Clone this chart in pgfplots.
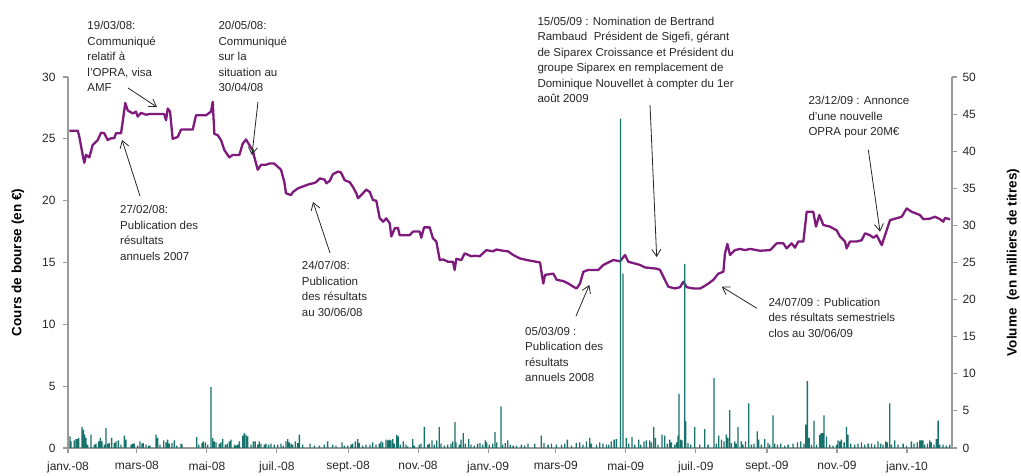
\documentclass[border=0pt]{standalone}
\usepackage{fontspec}
\setmainfont{Liberation Sans}
\usepackage{pgfplots}
\pgfplotsset{compat=1.18}
\usetikzlibrary{arrows.meta}
\definecolor{prix}{HTML}{7E1A7C}
\definecolor{vol}{HTML}{17726C}
\definecolor{axgrey}{HTML}{9A9A9A}
\definecolor{txt}{HTML}{262626}
\tikzset{
 ann/.style={anchor=north west, align=left, inner sep=0pt, font=\fontsize{11.5}{15.5}\selectfont, text=txt},
 arr/.style={-{Straight Barb[length=7pt,width=9pt]}, line width=0.8pt, black!85},
}
\begin{document}
\begin{tikzpicture}
\pgfplotsset{
 common/.style={
   scale only axis, width=884pt, height=371pt,
   at={(0pt,0pt)}, anchor=south west,
   xmin=0, xmax=770.2,
   axis line style={axgrey, line width=1.2pt},
   tick style={axgrey, line width=1.1pt},
   major tick length=5pt,
   tick align=outside,
   ticklabel style={font=\fontsize{12}{14}\selectfont, text=txt},
   /pgf/number format/assume math mode=true,
   clip=false,
 },
}
\begin{axis}[common,
  axis x line*=bottom, axis y line*=left,
  ymin=0, ymax=30, ytick={0,5,...,30},
  xtick={0,60,121,182,244,305,366,425,486,547,609,670,731},
  xticklabels={janv.-08,mars-08,mai-08,juil.-08,sept.-08,nov.-08,janv.-09,mars-09,mai-09,juil.-09,sept.-09,nov.-09,janv.-10},
  xticklabel style={yshift=-5pt},
  yticklabel style={xshift=-4pt},
]
\addplot[prix, line width=2.3pt, line join=round, sharp plot] coordinates {
(1.1,25.65)(8.5,25.65)(9.8,25.2)(12.8,23.7)(14.2,23.06)(15.7,23.7)(18.6,23.5)(21.5,24.5)(25.9,24.9)(28.8,25.5)(31.6,25.45)(34.6,24.9)(37.5,25.05)(40.3,25.05)(41.8,25.45)(46.2,25.45)(47.7,26.4)(49.9,27.9)(52,27.3)(56.4,27.05)(59.2,27.2)(60.7,26.8)(63.6,27.1)(68,26.95)(70.8,27.0)(83.9,27.0)(85.4,26.5)(86.9,27.45)(88.9,27.2)(91.2,25.0)(95.6,25.15)(98.5,25.75)(108.7,25.75)(111.5,26.9)(120.2,26.9)(121.7,27.0)(124.6,27.2)(126.1,28.0)(127.5,25.4)(130.4,25.3)(133.3,24.9)(136.2,24.1)(139.1,23.7)(140.5,23.5)(143.5,23.7)(149.3,23.7)(152.2,24.6)(155.1,24.95)(158,24.5)(160.9,24.1)(162.3,23.55)(165.3,22.5)(168.2,22.9)(172.5,22.9)(175.4,23.0)(179.7,23.0)(182.7,22.75)(185.6,22.5)(188.5,21.5)(189.9,20.6)(194.3,20.45)(196,20.7)(200.4,21.0)(206.2,21.2)(210.6,21.35)(213.5,21.4)(216.3,21.5)(219.3,21.8)(223.7,21.7)(225.1,21.4)(228,21.6)(230.9,22.15)(235.3,22.35)(237.6,22.3)(241.1,21.65)(245.4,21.5)(248.3,21.1)(251.2,20.6)(252.7,20.2)(257,20.6)(259.9,20.9)(262.9,20.7)(265.7,20.05)(268.6,20.0)(271.6,18.57)(274.5,18.3)(277.3,18.57)(280.3,18.17)(281.7,17.1)(284.6,17.76)(287.5,17.8)(289,17.2)(297.7,17.2)(300.6,17.5)(306.4,17.5)(307.8,17.0)(310.2,17.84)(315.1,17.84)(318,16.95)(320.9,16.7)(323.9,15.2)(326.7,15.25)(331.1,15.06)(335.4,15.06)(336.9,14.4)(338.3,15.3)(342.7,15.2)(345.6,15.74)(351.4,15.5)(354.4,15.55)(358.7,15.5)(364.5,16.0)(370.3,15.9)(373.2,16.05)(379,15.95)(383.4,15.9)(388,15.6)(393.8,15.33)(399.7,15.2)(411.3,15.0)(412.7,14.1)(414.1,13.3)(415.6,14.0)(422.8,14.1)(425.8,13.6)(431.5,13.5)(435.9,13.3)(440.3,13.04)(443.2,12.9)(446.1,13.3)(449,14.25)(453.3,14.4)(462,14.4)(466.4,14.8)(475.1,15.2)(481,15.1)(485.3,15.6)(488.2,15.06)(492.6,14.95)(498.4,14.8)(502.7,14.6)(512.9,14.5)(515.8,14.4)(518.7,13.85)(523,13.04)(528.9,12.9)(533.2,13.0)(536.1,13.44)(539.1,13.0)(544.8,12.9)(550.7,12.9)(553.6,13.04)(558,13.3)(562.3,13.6)(566.6,14.1)(571,14.25)(572.4,15.74)(574.5,16.5)(576.8,15.6)(581.1,16.0)(585.5,16.1)(589.9,16.0)(594.2,16.1)(602.9,15.95)(611.7,16.0)(617.5,16.55)(623.2,16.55)(626.2,16.14)(630.5,16.55)(633.4,16.2)(636.3,16.7)(640.7,16.7)(643.6,19.1)(649.3,19.1)(651.7,17.9)(654.6,18.84)(658.1,18.03)(663.9,17.9)(669.7,17.6)(672.6,17.1)(677,16.7)(678.4,16.14)(681.3,16.7)(687.2,16.7)(691.5,16.8)(694.4,17.36)(698.8,17.2)(701.7,17.0)(704.6,17.2)(709,16.4)(710.4,16.8)(716.2,18.43)(719.1,18.5)(726.4,18.7)(730.7,19.37)(735.1,19.1)(742.3,18.84)(745.2,18.5)(751.1,18.55)(755.4,18.7)(759.8,18.5)(762.6,18.3)(764.1,18.6)(768.5,18.5)
};
% axis labels
\node[rotate=90, font=\bfseries\fontsize{13.5}{16}\selectfont] at (axis cs:-43.6,15) {Cours de bourse (en €)};
\node[rotate=90, font=\bfseries\fontsize{13.5}{16}\selectfont] at (axis cs:823.4,15) {Volume\ \ (en milliers de titres)};
% annotations
\node[ann] at (axis cs:16.8,34.53) {19/03/08:\\Communiqué\\relatif à\\l'OPRA, visa\\AMF};
\node[ann] at (axis cs:131.0,34.53) {20/05/08:\\Communiqué\\sur la\\situation au\\30/04/08};
\node[ann] at (axis cs:45.3,19.63) {27/02/08:\\Publication des\\résultats\\annuels 2007};
\node[ann] at (axis cs:203.6,15.12) {24/07/08:\\Publication\\des résultats\\au 30/06/08};
\node[ann] at (axis cs:398.2,9.81) {05/03/09 :\\Publication des\\résultats\\annuels 2008};
\node[ann] at (axis cs:408.9,34.88) {15/05/09 : Nomination de Bertrand\\Rambaud\ \ Président de Sigefi, gérant\\de Siparex Croissance et Président du\\groupe Siparex en remplacement de\\Dominique Nouvellet à compter du 1er\\août 2009};
\node[ann] at (axis cs:645.0,28.46) {23/12/09 : Annonce\\d'une nouvelle\\OPRA pour 20M€};
\node[ann] at (axis cs:610.2,12.15) {24/07/09 : Publication\\des résultats semestriels\\clos au 30/06/09};
\draw[arr] (axis cs:52.3,29.11) -- (axis cs:77.5,27.57);
\draw[arr] (axis cs:165.5,27.98) -- (axis cs:160.3,23.69);
\draw[arr] (axis cs:62.7,20.38) -- (axis cs:47.1,24.91);
\draw[arr] (axis cs:228.3,15.77) -- (axis cs:213.5,19.89);
\draw[arr] (axis cs:442.6,10.67) -- (axis cs:454.2,13.18);
\draw[arr] (axis cs:507.1,27.74) -- (axis cs:512.9,15.44);
\draw[arr] (axis cs:697.3,24.10) -- (axis cs:707.5,17.49);
\draw[arr] (axis cs:600.1,11.30) -- (axis cs:569.6,13.04);
\end{axis}
\begin{axis}[common,
  axis x line=none, axis y line*=right,
  ymin=0, ymax=50, ytick={0,5,...,50},
  yticklabel style={xshift=2pt},
]
\addplot[ybar, bar width=1.3pt, fill=vol, draw=none] coordinates {
(1.7,1.57)(2.6,0.9)(5.5,1.03)(7.0,1.21)(8.4,1.21)(9.3,1.35)(12.2,2.83)(13.4,2.47)(14.5,1.8)(15.7,1.35)(17.1,0.45)(20.0,1.8)(23.0,0.45)(24.4,0.58)(26.7,0.9)(28.2,1.35)(29.6,0.9)(31.7,0.45)(33.1,2.7)(34.6,0.58)(36.0,0.67)(38.0,1.35)(40.4,0.67)(41.8,0.9)(43.9,1.03)(46.2,0.45)(49.1,1.66)(50.5,1.12)(54.9,0.45)(56.3,0.58)(57.8,0.58)(60.7,0.31)(62.7,0.9)(64.5,0.58)(65.6,0.67)(68.0,0.45)(70.3,0.31)(71.4,0.31)(76.7,1.8)(78.1,1.35)(80.2,0.45)(83.4,1.03)(85.4,0.76)(86.8,1.12)(88.3,0.58)(90.6,0.67)(92.6,1.03)(94.7,0.31)(98.5,0.58)(99.3,0.49)(112.1,1.48)(113.9,0.45)(116.8,0.67)(117.9,0.9)(119.7,0.76)(121.7,0.45)(124.6,8.22)(126.1,1.35)(127.5,0.9)(129.0,0.76)(131.9,0.58)(133.3,0.76)(134.8,1.21)(137.1,0.45)(138.8,0.58)(140.6,0.9)(142.0,1.12)(145.0,0.45)(146.4,0.31)(147.8,0.45)(149.3,0.9)(152.2,1.66)(153.6,2.0)(155.1,1.8)(156.5,1.57)(159.4,0.45)(161.5,0.9)(163.2,0.9)(165.3,0.45)(166.7,0.9)(168.2,0.58)(171.1,0.45)(172.5,0.58)(174.8,0.45)(176.9,0.58)(179.8,0.45)(182.7,0.45)(185.6,0.58)(187.6,0.31)(190.0,0.9)(191.4,1.21)(192.8,0.76)(194.3,0.58)(195.7,0.45)(198.1,0.9)(200.1,0.67)(201.6,1.8)(204.5,0.45)(210.9,0.58)(214.6,0.31)(219.0,0.31)(223.3,0.45)(226.2,0.9)(230.6,0.45)(233.5,0.31)(238.7,0.76)(240.8,0.31)(243.7,0.31)(246.6,0.45)(248.0,0.58)(250.4,0.9)(252.4,1.21)(253.8,0.67)(256.7,0.31)(259.6,0.45)(263.1,0.45)(265.5,0.76)(268.4,0.45)(271.3,0.58)(272.7,0.9)(274.2,0.76)(277.1,1.12)(278.5,1.03)(280.0,1.12)(281.4,1.03)(282.9,1.21)(284.3,0.58)(286.4,1.8)(287.8,1.57)(289.6,0.45)(292.2,0.9)(294.5,0.45)(296.0,0.22)(300.3,1.21)(301.8,0.31)(306.1,0.45)(307.6,0.58)(310.5,2.83)(313.4,0.45)(314.8,0.58)(317.1,1.03)(319.2,0.45)(321.2,1.03)(323.5,2.83)(325.0,0.58)(327.9,0.31)(330.8,0.45)(333.7,0.58)(335.2,0.9)(337.2,3.5)(338.1,0.76)(341.0,0.45)(342.4,1.12)(344.4,2.0)(346.2,0.58)(349.1,1.21)(351.1,0.45)(354.0,0.31)(356.9,0.58)(359.0,0.67)(361.3,0.45)(363.6,1.03)(364.8,0.76)(367.1,0.45)(370.0,0.58)(372.0,2.15)(373.5,0.76)(377.3,5.6)(378.7,0.45)(381.0,0.67)(383.1,1.03)
(385.4,0.45)(387.8,0.31)(390.7,0.31)(395.0,0.45)(397.9,0.31)(400.8,0.58)(406.6,0.58)(412.4,1.66)(414.8,0.67)(418.3,0.45)(421.2,0.58)(425.5,0.45)(429.9,0.45)(432.8,0.58)(435.1,1.12)(438.6,0.31)(442.9,0.67)(445.8,0.76)(448.7,0.45)(451.7,0.9)(454.6,1.35)(456.0,0.58)(460.4,0.45)(463.3,0.76)(466.2,0.58)(469.1,0.45)(471.1,0.45)(473.4,0.9)(475.8,1.12)(477.8,1.21)(481.3,44.4)(483.6,23.5)(486.5,1.35)(488.5,0.58)(491.4,1.48)(493.8,0.45)(497.2,1.12)(499.0,0.45)(501.9,0.9)(503.9,1.03)(506.8,1.03)(508.3,0.76)(510.3,2.83)(511.8,1.35)(514.1,0.45)(517.6,1.8)(519.9,1.66)(522.2,0.58)(524.3,1.12)(525.7,0.76)(528.6,0.45)(530.1,0.76)(531.5,1.66)(532.4,7.3)(533.8,1.12)(535.0,1.03)(537.3,24.8)(538.2,3.6)(540.2,0.67)(542.6,0.45)(546.0,2.83)(550.4,0.45)(554.8,2.56)(557.7,0.45)(562.9,9.4)(564.9,0.58)(567.0,1.66)(569.3,1.12)(571.6,0.9)(573.6,1.8)(575.1,1.35)(576.5,5.1)(578.0,0.67)(580.9,0.9)(582.3,0.58)(583.8,2.83)(586.7,0.9)(588.1,0.45)(590.2,0.9)(593.1,6.0)(595.4,0.45)(597.7,0.58)(600.6,2.25)(601.8,1.12)(604.1,0.45)(607.0,1.21)(609.9,0.67)(611.4,0.45)(614.3,4.4)(615.7,0.58)(618.1,0.45)(621.0,0.58)(624.5,0.31)(627.4,0.45)(631.7,0.58)(635.5,0.76)(638.4,0.9)(641.3,0.58)(642.7,3.15)(644.2,9.0)(645.7,1.35)(647.7,0.45)(650.0,3.7)(652.1,0.45)(655.0,1.8)(656.4,2.0)(657.9,2.0)(658.7,4.4)(660.8,1.57)(663.7,0.45)(666.6,0.31)(669.5,0.45)(670.9,1.03)(672.4,0.9)(673.8,1.12)(676.2,0.76)(678.2,2.83)(679.6,1.8)(682.0,0.58)(685.4,0.45)(688.3,0.58)(691.3,0.76)(694.2,0.45)(697.1,0.58)(700.0,0.58)(702.9,0.45)(705.8,0.9)(708.1,0.58)(710.1,0.45)(712.5,0.9)(713.9,0.76)(716.0,6.0)(717.4,0.45)(720.3,1.03)(723.2,0.45)(727.6,0.58)(730.5,0.31)(734.8,0.9)(737.1,0.58)(740.0,0.76)(742.1,1.03)(743.5,1.03)(745.0,1.03)(746.4,0.45)(748.8,0.58)(750.8,1.03)(752.2,0.76)(754.6,0.45)(756.6,1.21)(758.1,3.7)(759.5,0.45)(762.4,0.45)(765.3,0.31)(768.2,0.45)
};
\end{axis}
\pgfresetboundingbox
\path (-68pt,-28pt) rectangle (953pt,448pt);
\end{tikzpicture}
\end{document}
